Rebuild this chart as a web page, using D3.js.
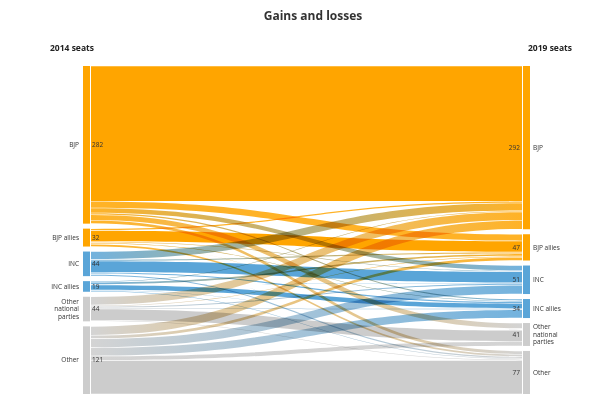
<!DOCTYPE html>
<html>
<head>
<meta charset="utf-8">
<script src="https://cdn.jsdelivr.net/npm/d3@7"></script>
<style>
  body { margin: 0; background: #fff; }
  svg { display: block; font-family: "Open Sans", "Noto Sans", sans-serif; }
  .link { mix-blend-mode: multiply; }
</style>
</head>
<body>
<svg id="chart" width="600" height="417"></svg>
<script>
// parties, same order in both columns
const parties = ["BJP", "BJP allies", "INC", "INC allies", "Other national parties", "Other"];
const seats2014 = [282, 32, 44, 19, 44, 121];
const seats2019 = [292, 47, 51, 34, 41, 77];
const partyColors = ["#ffa500", "#ffa500", "#5aa5d8", "#5aa5d8", "#cccccc", "#cccccc"];

// rows: 2014 party, columns: 2019 party
const flows = [
  [242, 12,  9,  3, 10,  6],
  [  3, 20,  2,  2,  1,  4],
  [ 14,  3, 20,  3,  1,  3],
  [  2,  4,  1,  9,  1,  2],
  [ 15,  2,  3,  2, 20,  2],
  [ 16,  6, 16, 15,  8, 60]
];

const svg = d3.select("#chart");
const margin = { top: 66, bottom: 23 };
const height = 417 - margin.top - margin.bottom;
const nodePadding = 5;
const nodeWidth = 7;
const total = d3.sum(seats2014);

const ky = d3.scaleLinear()
  .domain([0, total])
  .range([0, height - nodePadding * (parties.length - 1)]);

const colX = { left: 83, right: 523 };

function layoutColumn(values) {
  let y = margin.top;
  return values.map((v, i) => {
    const n = { i, value: v, y0: y, y1: y + ky(v) };
    y = n.y1 + nodePadding;
    return n;
  });
}

const leftNodes = layoutColumn(seats2014);
const rightNodes = layoutColumn(seats2019);

// build links, stacked on each side by the other end's order
const links = [];
const srcOffset = leftNodes.map(n => n.y0);
const tgtOffset = rightNodes.map(n => n.y0);
flows.forEach((row, s) => {
  row.forEach((v, t) => {
    if (!v) return;
    links.push({ s, t, value: v });
  });
});
links.forEach(l => {
  const w = ky(l.value);
  l.sy0 = srcOffset[l.s]; l.sy1 = l.sy0 + w; srcOffset[l.s] += w;
});
// target side ordered by source index
links.slice().sort((a, b) => a.t - b.t || a.s - b.s).forEach(l => {
  const w = ky(l.value);
  l.ty0 = tgtOffset[l.t]; l.ty1 = l.ty0 + w; tgtOffset[l.t] += w;
});

const x0 = colX.left + nodeWidth + 1;
const x1 = colX.right - 1;

function ribbon(l) {
  const xm = (x0 + x1) / 2;
  const g = 0.3;
  const a0 = l.sy0 + g, a1 = l.sy1 - g, b0 = l.ty0 + g, b1 = l.ty1 - g;
  return `M${x0},${a0}C${xm},${a0} ${xm},${b0} ${x1},${b0}` +
    `L${x1},${b1}C${xm},${b1} ${xm},${a1} ${x0},${a1}Z`;
}

const defs = svg.append("defs");
links.forEach((l, k) => {
  const grad = defs.append("linearGradient")
    .attr("id", "lg" + k)
    .attr("gradientUnits", "userSpaceOnUse")
    .attr("x1", x0).attr("x2", x1);
  grad.append("stop").attr("offset", "0%").attr("stop-color", partyColors[l.s]);
  grad.append("stop").attr("offset", "100%").attr("stop-color", partyColors[l.t]);
  l.k = k;
});

// self flows first, then the changes on top
const ordered = links.filter(l => l.s === l.t).concat(links.filter(l => l.s !== l.t));

svg.append("g")
  .selectAll("path")
  .data(ordered)
  .join("path")
  .attr("class", "link")
  .attr("d", ribbon)
  .attr("fill", d => d.s === d.t ? partyColors[d.s] : `url(#lg${d.k})`)
  .attr("fill-opacity", d => d.s === d.t ? 1 : 0.85);

// nodes
const nodeG = svg.append("g");
nodeG.selectAll("rect.left")
  .data(leftNodes)
  .join("rect")
  .attr("class", "left")
  .attr("x", colX.left)
  .attr("y", d => d.y0)
  .attr("width", nodeWidth)
  .attr("height", d => d.y1 - d.y0)
  .attr("fill", d => partyColors[d.i]);

nodeG.selectAll("rect.right")
  .data(rightNodes)
  .join("rect")
  .attr("class", "right")
  .attr("x", colX.right)
  .attr("y", d => d.y0)
  .attr("width", nodeWidth)
  .attr("height", d => d.y1 - d.y0)
  .attr("fill", d => partyColors[d.i]);

// labels
function nameLabel(sel, x, anchor) {
  sel.each(function (d) {
    const words = parties[d.i] === "Other national parties" ? ["Other", "national", "parties"] : [parties[d.i]];
    const cy = (d.y0 + d.y1) / 2;
    const lh = 7.5;
    const t = d3.select(this)
      .attr("x", x)
      .attr("text-anchor", anchor)
      .attr("font-size", 6.5)
      .attr("fill", "#333");
    words.forEach((w, j) => {
      t.append("tspan")
        .attr("x", x)
        .attr("y", cy + (j - (words.length - 1) / 2) * lh)
        .attr("dy", "0.35em")
        .text(w);
    });
  });
}

svg.append("g").selectAll("text")
  .data(leftNodes).join("text")
  .call(nameLabel, colX.left - 4, "end");

svg.append("g").selectAll("text")
  .data(rightNodes).join("text")
  .call(nameLabel, colX.right + nodeWidth + 3, "start");

svg.append("g").selectAll("text")
  .data(leftNodes).join("text")
  .attr("x", x0 + 1)
  .attr("y", d => (d.y0 + d.y1) / 2)
  .attr("dy", "0.35em")
  .attr("font-size", 6.5)
  .attr("fill", "#333")
  .text(d => d.value);

svg.append("g").selectAll("text")
  .data(rightNodes).join("text")
  .attr("x", x1 - 2)
  .attr("y", d => (d.y0 + d.y1) / 2)
  .attr("dy", "0.35em")
  .attr("text-anchor", "end")
  .attr("font-size", 6.5)
  .attr("fill", "#333")
  .text(d => d.value);

// headings
svg.append("text")
  .attr("x", 313).attr("y", 20)
  .attr("text-anchor", "middle")
  .attr("font-size", 12)
  .attr("font-weight", "bold")
  .attr("fill", "#333")
  .text("Gains and losses");

svg.append("text")
  .attr("x", 50).attr("y", 50.5)
  .attr("font-size", 8.5)
  .attr("font-weight", "bold")
  .attr("fill", "#222")
  .text("2014 seats");

svg.append("text")
  .attr("x", 528).attr("y", 50.5)
  .attr("font-size", 8.5)
  .attr("font-weight", "bold")
  .attr("fill", "#222")
  .text("2019 seats");
</script>
</body>
</html>
